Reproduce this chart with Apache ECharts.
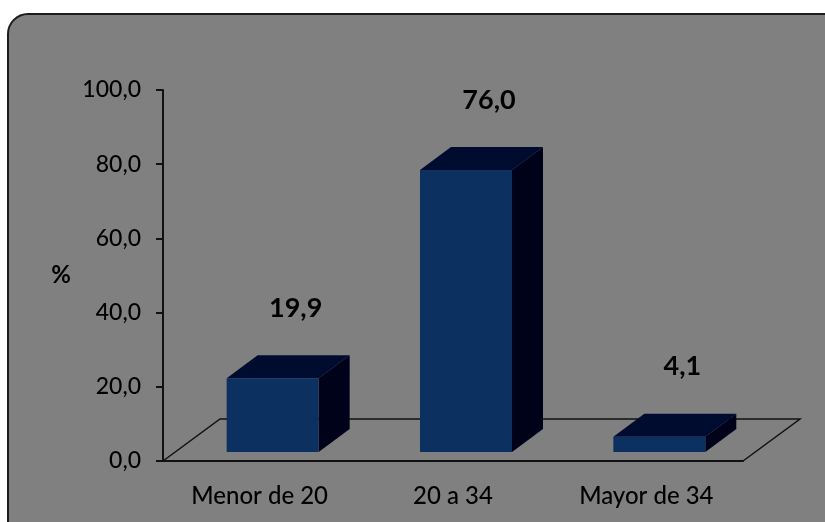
<!DOCTYPE html>
<html>
<head>
<meta charset="utf-8">
<script src="https://cdn.jsdelivr.net/npm/echarts@6/dist/echarts.min.js"></script>
<style>
  html, body { margin: 0; padding: 0; background: #ffffff; }
  #chart { width: 825px; height: 522px; }
</style>
</head>
<body>
<div id="chart"></div>
<script>
// Age groups and their share (%)
const categories = ['Menor de 20', '20 a 34', 'Mayor de 34'];
const percentages = [19.9, 76.0, 4.1];
const yTicks = [0, 20, 40, 60, 80, 100];

const FONT = 'Lato';
const fmt = v => v.toFixed(1).replace('.', ',');

// 3D look: floor depth, bar depth and where the bars sit inside the floor
const FLOOR_DX = 57, FLOOR_DY = -42;
const BAR_DX = 31, BAR_DY = -23;
const BAR_POS_DX = 13, BAR_POS_DY = -9;
const BAR_W = 92;

const chart = echarts.init(document.getElementById('chart'), null, { renderer: 'canvas' });

chart.setOption({
  animation: false,
  backgroundColor: '#ffffff',
  graphic: [{
    type: 'rect',
    z: -10,
    shape: { x: 8, y: 14, width: 840, height: 540, r: 20 },
    style: { fill: '#808080', stroke: '#1c1c1c', lineWidth: 2 }
  }],
  grid: { left: 163, right: 82, top: 90, bottom: 61 },
  xAxis: {
    type: 'category',
    data: categories,
    axisLine: { show: true, lineStyle: { color: '#111', width: 2 } },
    axisTick: { show: false },
    axisLabel: { color: '#000', fontFamily: FONT, fontSize: 24, fontWeight: 500, margin: 23 },
    splitLine: { show: false }
  },
  yAxis: {
    type: 'value',
    min: yTicks[0],
    max: yTicks[yTicks.length - 1],
    interval: 20,
    name: '%',
    nameLocation: 'middle',
    nameRotate: 0,
    nameGap: 92,
    nameTextStyle: { color: '#000', fontFamily: FONT, fontSize: 24, fontWeight: 'bold', padding: [6, 0, 0, 0] },
    axisLine: { show: true, lineStyle: { color: '#111', width: 2 } },
    axisTick: { show: true, length: 7, lineStyle: { color: '#111', width: 2 } },
    axisLabel: { color: '#000', fontFamily: FONT, fontSize: 23, fontWeight: 500, margin: 22, formatter: v => fmt(v) },
    splitLine: { show: false }
  },
  series: [
    {
      // floor parallelogram
      type: 'custom',
      z: 1,
      silent: true,
      data: [[0]],
      renderItem: (params) => {
        const cs = params.coordSys;
        const x0 = cs.x, x1 = cs.x + cs.width, yb = cs.y + cs.height;
        return {
          type: 'polyline',
          shape: {
            points: [
              [x0, yb], [x0 + FLOOR_DX, yb + FLOOR_DY],
              [x1 + FLOOR_DX, yb + FLOOR_DY], [x1, yb]
            ]
          },
          style: { stroke: '#111', lineWidth: 1.5, fill: null }
        };
      }
    },
    {
      // 3D bars with value labels
      type: 'custom',
      z: 2,
      data: percentages.map((v, i) => [i, v]),
      renderItem: (params, api) => {
        const top = api.coord([api.value(0), api.value(1)]);
        const base = api.coord([api.value(0), 0]);
        const xl = top[0] + BAR_POS_DX - BAR_W / 2;
        const xr = xl + BAR_W;
        const yt = top[1] + BAR_POS_DY;
        const yb = base[1] + BAR_POS_DY;
        return {
          type: 'group',
          children: [
            {
              type: 'polygon',
              shape: { points: [[xr, yt], [xr + BAR_DX, yt + BAR_DY], [xr + BAR_DX, yb + BAR_DY], [xr, yb]] },
              style: { fill: '#00021a' }
            },
            {
              type: 'polygon',
              shape: { points: [[xl, yt], [xl + BAR_DX, yt + BAR_DY], [xr + BAR_DX, yt + BAR_DY], [xr, yt]] },
              style: { fill: '#000b30' }
            },
            {
              type: 'rect',
              shape: { x: xl, y: yt, width: BAR_W, height: yb - yt },
              style: { fill: '#0c3060' }
            },
            {
              type: 'text',
              style: {
                x: top[0] + 36,
                y: top[1] - 79,
                text: fmt(api.value(1)),
                align: 'center',
                verticalAlign: 'middle',
                fill: '#000',
                font: 'bold 27px ' + FONT
              }
            }
          ]
        };
      }
    }
  ]
});
</script>
</body>
</html>
